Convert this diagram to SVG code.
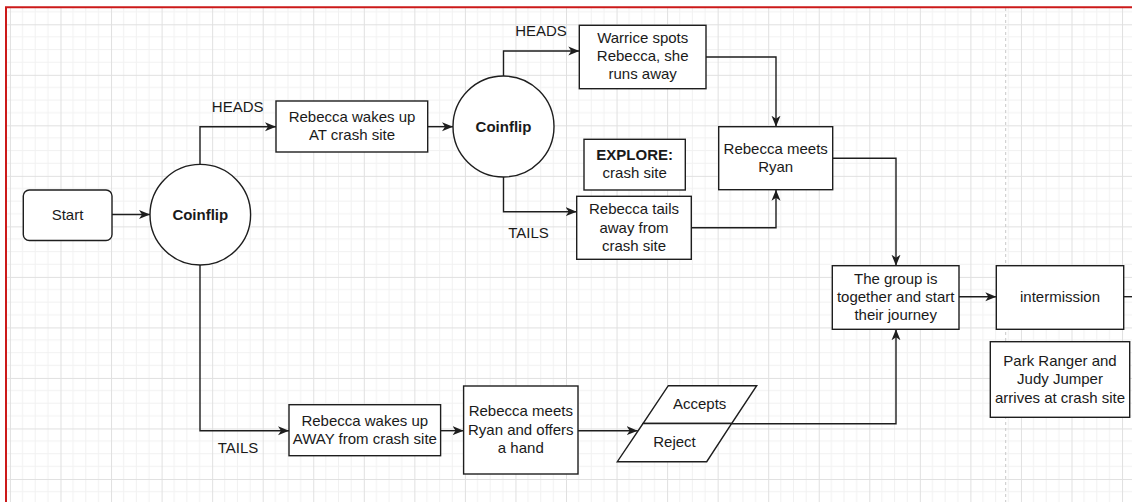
<svg xmlns="http://www.w3.org/2000/svg" width="1132" height="502" viewBox="0 0 1132 502">
<style>
.n{fill:#fff;stroke:#1e1e1e;stroke-width:1.4}
.t{font-family:"Liberation Sans",Arial,sans-serif;font-size:15px;fill:#1a1a1a;text-anchor:middle}
.b{font-weight:bold}
.e{fill:none;stroke:#1e1e1e;stroke-width:1.4}
.gm{stroke:#f1f1f1;stroke-width:1}
.gM{stroke:#e0e0e0;stroke-width:1}
</style>
<defs>
<pattern id="grid" patternUnits="userSpaceOnUse" x="60.5" y="24.3" width="50.55" height="50.52">
<line class="gm" x1="12.64" y1="0" x2="12.64" y2="50.52"/>
<line class="gm" x1="25.28" y1="0" x2="25.28" y2="50.52"/>
<line class="gm" x1="37.91" y1="0" x2="37.91" y2="50.52"/>
<line class="gm" x1="0" y1="12.63" x2="50.55" y2="12.63"/>
<line class="gm" x1="0" y1="25.26" x2="50.55" y2="25.26"/>
<line class="gm" x1="0" y1="37.89" x2="50.55" y2="37.89"/>
<line class="gM" x1="0.5" y1="0" x2="0.5" y2="50.52"/>
<line class="gM" x1="0" y1="0.5" x2="50.55" y2="0.5"/>
</pattern>
<marker id="arr" markerUnits="userSpaceOnUse" markerWidth="12" markerHeight="10" refX="11" refY="5" orient="auto">
<path d="M0,0.5 L11,5 L0,9.5 L3,5 Z" fill="#1e1e1e"/>
</marker>
</defs>
<rect x="0" y="0" width="1132" height="502" fill="#fff"/>
<rect x="7" y="8" width="1125" height="494" fill="url(#grid)"/>
<line x1="1005.7" y1="8" x2="1005.7" y2="502" stroke="#c8c8c8" stroke-width="1" stroke-dasharray="3,3"/>
<path d="M6,502 V7.3 H1132" fill="none" stroke="#cc1a1a" stroke-width="2"/>

<g id="connectors">
<path class="e" d="M112,214.5 H150" marker-end="url(#arr)"/>
<path class="e" d="M200,164.3 V126.7 H276" marker-end="url(#arr)"/>
<path class="e" d="M200,265 V430.7 H289" marker-end="url(#arr)"/>
<path class="e" d="M428,126.7 H453" marker-end="url(#arr)"/>
<path class="e" d="M503.5,76 V51 H579.3" marker-end="url(#arr)"/>
<path class="e" d="M503.5,177 V211.7 H576.7" marker-end="url(#arr)"/>
<path class="e" d="M706,57 H776 V126.7" marker-end="url(#arr)"/>
<path class="e" d="M691.3,227.7 H776 V189.7" marker-end="url(#arr)"/>
<path class="e" d="M832.7,158.3 H896 V265.7" marker-end="url(#arr)"/>
<path class="e" d="M959,296.7 H996.3" marker-end="url(#arr)"/>
<path class="e" d="M1123.7,296.7 H1132"/>
<path class="e" d="M440.6,430.7 H463.6" marker-end="url(#arr)"/>
<path class="e" d="M578,430.7 H637.7" marker-end="url(#arr)"/>
<path class="e" d="M731.7,423.8 H896 V329.3" marker-end="url(#arr)"/>
<text class="t" x="237.7" y="111.7">HEADS</text>
<text class="t" x="238" y="453.3">TAILS</text>
<text class="t" x="541" y="35.7">HEADS</text>
<text class="t" x="528.5" y="237.7">TAILS</text>
</g>

<g id="start">
<rect class="n" x="23.3" y="190" width="88.7" height="50.5" rx="6"/>
<text class="t" x="67.5" y="219.5">Start</text>
</g>
<g id="coinflip1">
<circle class="n" cx="200.3" cy="214.7" r="50.3"/>
<text class="t b" x="200.3" y="219.7">Coinflip</text>
</g>
<g id="wake-at">
<rect class="n" x="276" y="101" width="151.7" height="51"/>
<text class="t" x="352" y="121.7">Rebecca wakes up</text>
<text class="t" x="352" y="140.3">AT crash site</text>
</g>
<g id="coinflip2">
<circle class="n" cx="503.5" cy="126.5" r="50.5"/>
<text class="t b" x="503.5" y="131.5">Coinflip</text>
</g>
<g id="warrice">
<rect class="n" x="579.3" y="25.3" width="126.7" height="63.4"/>
<text class="t" x="642.7" y="43.3">Warrice spots</text>
<text class="t" x="642.7" y="61.3">Rebecca, she</text>
<text class="t" x="642.7" y="79.3">runs away</text>
</g>
<g id="explore">
<rect class="n" x="584" y="139.3" width="101.3" height="50.7"/>
<text class="t b" x="634.7" y="160">EXPLORE:</text>
<text class="t" x="634.7" y="178.3">crash site</text>
</g>
<g id="tails-away">
<rect class="n" x="576.7" y="196.3" width="114.6" height="63"/>
<text class="t" x="634" y="214">Rebecca tails</text>
<text class="t" x="634" y="232.7">away from</text>
<text class="t" x="634" y="250.7">crash site</text>
</g>
<g id="meets-ryan">
<rect class="n" x="718.7" y="126.7" width="114" height="63"/>
<text class="t" x="775.7" y="154">Rebecca meets</text>
<text class="t" x="775.7" y="171.7">Ryan</text>
</g>
<g id="group">
<rect class="n" x="832.3" y="265.7" width="126.7" height="63.6"/>
<text class="t" x="895.7" y="284">The group is</text>
<text class="t" x="895.7" y="301.7">together and start</text>
<text class="t" x="895.7" y="320">their journey</text>
</g>
<g id="intermission">
<rect class="n" x="996.3" y="265.7" width="127.4" height="63.6"/>
<text class="t" x="1060" y="301.7">intermission</text>
</g>
<g id="park-ranger">
<rect class="n" x="990.3" y="341.7" width="139.4" height="75.6"/>
<text class="t" x="1060" y="365.7">Park Ranger and</text>
<text class="t" x="1060" y="384">Judy Jumper</text>
<text class="t" x="1060" y="402.7">arrives at crash site</text>
</g>
<g id="wake-away">
<rect class="n" x="289" y="404.7" width="151.6" height="51"/>
<text class="t" x="364.8" y="425.7">Rebecca wakes up</text>
<text class="t" x="364.8" y="444">AWAY from crash site</text>
</g>
<g id="offers">
<rect class="n" x="463.6" y="386" width="114.4" height="88"/>
<text class="t" x="520.8" y="416">Rebecca meets</text>
<text class="t" x="520.8" y="435">Ryan and offers</text>
<text class="t" x="520.8" y="453.3">a hand</text>
</g>
<g id="accepts">
<polygon class="n" points="668.3,385.7 756.7,385.7 731.7,423.5 643,423.5"/>
<text class="t" x="699.7" y="409">Accepts</text>
</g>
<g id="reject">
<polygon class="n" points="643,423.5 731.7,423.5 706.7,461.7 617.3,461.7"/>
<text class="t" x="674.5" y="446.7">Reject</text>
</g>
</svg>
